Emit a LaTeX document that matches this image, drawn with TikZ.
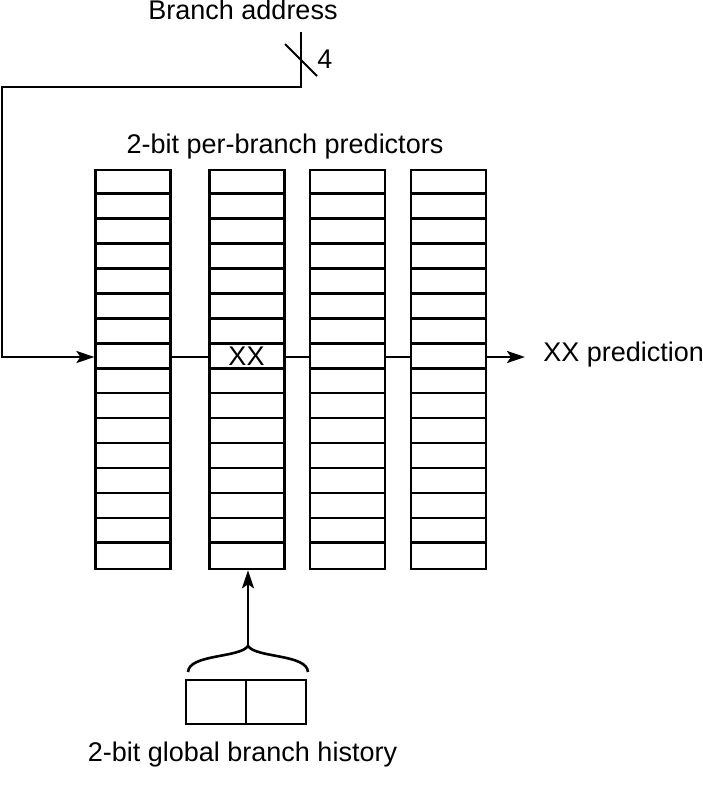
\documentclass[tikz,border=0pt]{standalone}
\usepackage{fontspec}
\setmainfont{Liberation Sans}
\usetikzlibrary{arrows.meta,calc}
\begin{document}
\begin{tikzpicture}[x=1pt,y=-1pt,line width=2.6pt,
  col/.style={draw,rectangle,minimum width=75pt,minimum height=399pt,inner sep=0pt},
  lbl/.style={font=\fontsize{27}{32}\selectfont,inner sep=0pt,anchor=base},
  arr/.style={-{Stealth[length=18pt,width=12pt,inset=4pt]}}]
\useasboundingbox (0,0) rectangle (703,800);
% columns of 2-bit predictors
\node[col] (c1) at (133.2,369.5) {};
\node[col] (c2) at (247,369.5) {};
\node[col] (c3) at (347.5,369.5) {};
\node[col] (c4) at (448.5,369.5) {};
\foreach \c in {c1,c2,c3,c4}{
  \foreach \k in {1,...,15}{
    \draw ($(\c.north west)+(0,\k*24.9375)$) -- ($(\c.north east)+(0,\k*24.9375)$);
  }
}
% labels
\node[lbl] (ba) at (243,20) {Branch address};
\node[lbl] (w4) at (325,69) {4};
\node[lbl] (title) at (285,153) {2-bit per-branch predictors};
\node[lbl] (xx) at (246.5,365) {XX};
\node[lbl,anchor=base west] (pred) at (542,361.7) {XX prediction};
\node[lbl] (ghl) at (242.5,761.7) {2-bit global branch history};
% branch address path
\coordinate (row) at (0,357);
\coordinate (src) at (301,32);
\coordinate (bend1) at (301,87);
\coordinate (bend2) at (2,87);
\draw[arr] (src) -- (bend1) -- (bend2) -- (bend2 |- row) -- (c1.west |- row);
\draw[line width=2pt] (285,44) -- (317,76);
% row connections
\draw (c1.east |- row) -- (c2.west |- row);
\draw (c2.east |- row) -- (c3.west |- row);
\draw (c3.east |- row) -- (c4.west |- row);
\coordinate (out) at (525,357);
\draw[arr] (c4.east |- row) -- (out);
% global history register
\node[draw,rectangle,minimum width=120pt,minimum height=44pt,inner sep=0pt] (hist) at (246,702) {};
\draw[line width=2pt] (hist.north) -- (hist.south);
\coordinate (tip) at (248,646);
\draw (188,672) .. controls (189,654) and (240,658) .. (tip)
      .. controls (256,658) and (307,654) .. (308,672);
\draw[arr] (tip) -- (tip |- c2.south);
\end{tikzpicture}
\end{document}
